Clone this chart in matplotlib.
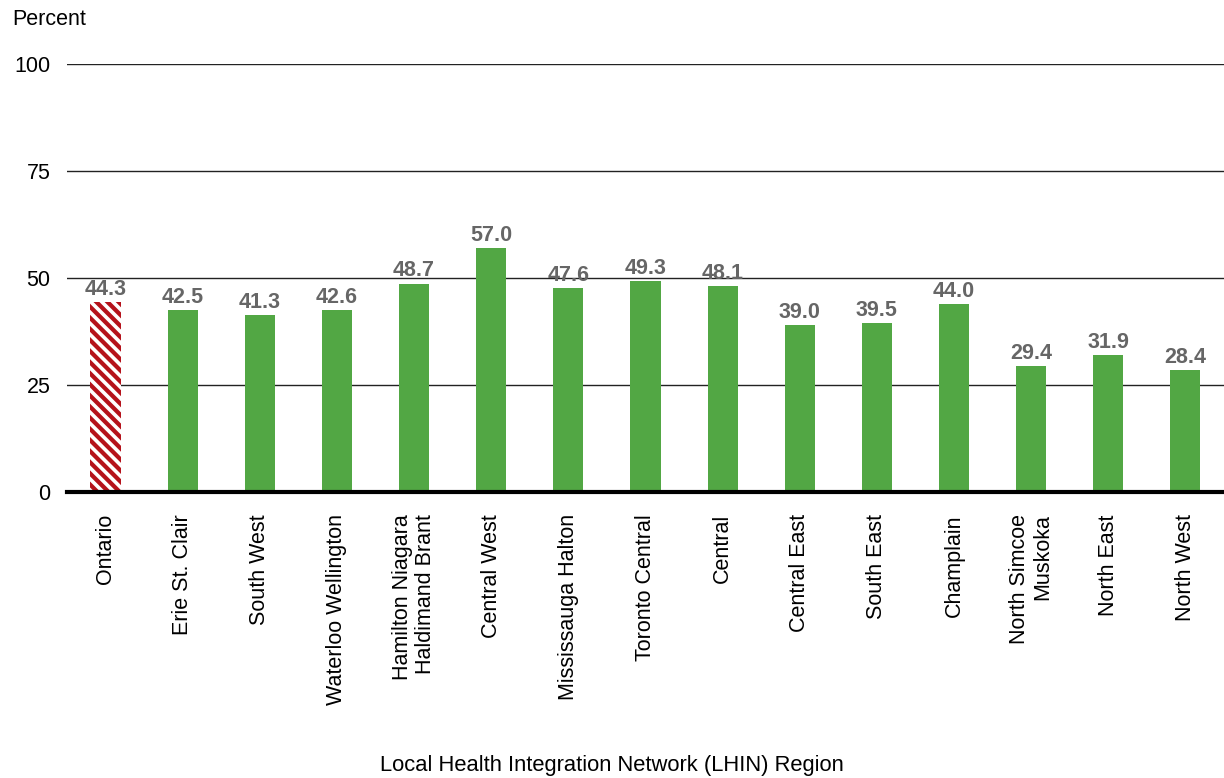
import matplotlib
matplotlib.use('Agg')
import matplotlib.pyplot as plt

# Data
regions = ['Ontario', 'Erie St. Clair', 'South West', 'Waterloo Wellington',
           'Hamilton Niagara\nHaldimand Brant', 'Central West', 'Mississauga Halton',
           'Toronto Central', 'Central', 'Central East', 'South East', 'Champlain',
           'North Simcoe\nMuskoka', 'North East', 'North West']
percent = [44.3, 42.5, 41.3, 42.6, 48.7, 57.0, 47.6, 49.3, 48.1, 39.0, 39.5, 44.0,
           29.4, 31.9, 28.4]
yticks = [0, 25, 50, 75, 100]

green = '#52a744'
red = '#b5121b'

plt.rcParams['font.family'] = ['Liberation Sans', 'DejaVu Sans']
plt.rcParams['hatch.linewidth'] = 2.6
plt.rcParams['hatch.color'] = 'white'

fig = plt.figure(figsize=(12.24, 7.78), dpi=100)
ax = fig.add_axes([0.0547, 0.3676, 0.9453, 0.5501])

x = list(range(len(regions)))
bars = ax.bar(x, percent, width=0.39, color=green, zorder=3)
# provincial average is drawn red with white stripes
bars[0].set_facecolor(red)
bars[0].set_hatch('\\\\\\')
bars[0].set_edgecolor('white')
bars[0].set_linewidth(0)

for xi, v in zip(x, percent):
    ax.text(xi, v + 0.5, f'{v:.1f}', ha='center', va='bottom', fontsize=15.5,
            fontweight='bold', color='#666666', zorder=4)

ax.set_xlim(-0.5, len(regions) - 0.5)
ax.set_ylim(0, 100)
ax.set_yticks(yticks)
ax.set_yticklabels([str(t) for t in yticks], fontsize=15.5)
ax.yaxis.grid(True, color='#222222', linewidth=1.0, zorder=0)
ax.axhline(0, color='black', linewidth=3, zorder=5, clip_on=False)
ax.tick_params(axis='both', length=0)
ax.tick_params(axis='y', pad=12)
ax.tick_params(axis='x', pad=16)
for s in ax.spines.values():
    s.set_visible(False)

ax.set_xticks(x)
ax.set_xticklabels(regions, rotation=90, fontsize=15.5, va='top', ha='center',
                   multialignment='right', linespacing=1.15)

fig.text(0.010, 0.975, 'Percent', fontsize=15.5, ha='left', va='center')
fig.text(0.5, 0.016, 'Local Health Integration Network (LHIN) Region', fontsize=15.8,
         ha='center', va='center')

fig.savefig('out.png', dpi=100)
